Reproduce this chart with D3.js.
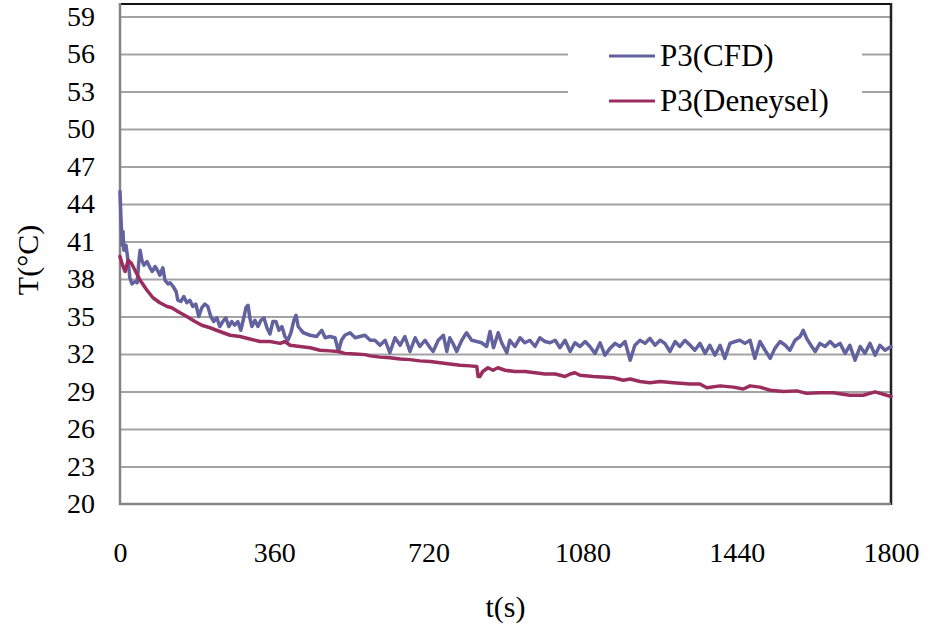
<!DOCTYPE html>
<html>
<head>
<meta charset="utf-8">
<script src="https://cdn.jsdelivr.net/npm/d3@7"></script>
<style>
  body { margin: 0; background: #fff; }
  text { font-family: "Liberation Serif", "Times New Roman", serif; fill: #000; }
</style>
</head>
<body>
<svg id="chart" width="929" height="634"></svg>
<script>
// P3 probe temperature: CFD prediction (time in s, temperature in °C)
const cfdTime = [0,2,5,7,9,14,19,23,28,35,40,44,47,51,56,63,70,75,82,89,93,100,105,112,117,124,131,135,142,149,156,163,170,177,184,191,198,205,212,219,226,233,240,247,254,261,268,275,282,289,294,299,303,308,315,322,329,336,343,350,357,364,371,378,385,392,399,406,411,416,423,
  428,444,459,471,479,490,502,510,517,525,537,549,560,572,584,595,607,619,630,642,654,665,677,689,700,712,724,731,743,755,763,770,778,786,798,809,821,833,844,856,864,872,883,891,903,910,922,934,945,957,969,980,992,1004,1016,1027,1039,1051,1062,
  1074,1086,1097,1109,1121,1132,1144,1156,1167,1179,1191,1202,1214,1226,1237,1249,1261,1272,1284,1296,1307,1319,1331,1342,1354,1366,1377,1389,1401,1412,1424,1436,1447,1459,1471,1482,1494,1506,1518,1529,1541,1553,1564,1576,1588,1595,1603,1615,1623,1634,1646,1658,1669,1681,1693,1704,1716,1728,1739,1751,1763,1774,1786,1800];
const cfdTemp = [45.0,43.1,40.7,41.8,40.3,40.7,39.4,38.1,37.6,37.8,37.7,39.4,40.3,39.5,39.1,39.4,38.9,38.6,39.0,38.6,38.3,38.9,37.9,37.6,37.7,37.4,37.0,36.3,36.2,36.6,36.1,36.3,35.8,36.0,35.0,35.7,36.0,35.8,35.0,34.6,34.9,34.2,34.6,34.9,34.2,34.6,34.3,34.6,33.9,34.9,35.7,35.9,34.9,34.2,34.7,34.2,34.7,34.9,34.1,33.6,34.6,34.6,33.9,34.2,33.4,33.1,33.7,34.7,35.1,34.2,33.9,
  33.7,33.5,33.4,33.9,33.3,33.4,33.3,32.2,33.1,33.5,33.7,33.3,33.4,33.5,33.1,33.1,32.7,33.1,32.1,33.3,32.7,33.4,32.2,33.3,32.6,33.1,32.5,32.2,33.1,33.5,32.2,33.3,32.8,32.2,33.1,33.7,33.1,33.0,32.9,32.6,33.8,32.5,33.7,32.9,32.1,33.1,32.6,33.3,32.9,33.1,32.6,33.3,33.0,32.9,33.1,32.5,33.1,32.2,32.9,
  32.6,33.0,32.6,32.05,32.9,31.9,32.45,32.85,32.6,33.0,31.5,32.7,33.1,32.85,33.25,32.7,33.1,32.85,32.2,33.0,32.6,33.1,32.7,32.3,32.85,32.05,32.7,31.9,32.7,31.65,32.85,33.0,33.1,32.85,33.1,31.65,33.0,32.3,31.65,32.45,33.0,32.7,32.3,33.1,33.4,33.9,33.25,32.6,32.2,32.85,32.6,33.0,32.6,32.85,32.05,32.7,31.5,32.6,32.05,32.85,31.9,32.7,32.3,32.6];

// P3 probe temperature: experimental measurement
const expTime = [0,5,12,19,26,35,47,63,77,93,110,121,135,156,175,191,210,233,257,280,303,327,350,374,385,397,420,444,467,490,509,525,549,572,584,607,630,654,677,700,724,747,770,794,817,833,836,840,847,859,871,882,899,922,946,969,992,1016,1039,1051,1062,1074,1105,1152,1175,1191,1214,1237,1261,1292,1331,1354,1370,1401,1432,1455,1471,1494,1518,1549,1580,1603,1634,1665,1704,1735,1763,1800];
const expTemp = [39.8,39.2,38.6,39.5,39.3,38.7,37.9,37.1,36.5,36.1,35.8,35.7,35.4,35.0,34.6,34.3,34.1,33.8,33.5,33.4,33.2,33.0,33.0,32.85,33.0,32.7,32.6,32.5,32.3,32.25,32.2,32.05,32.0,31.95,31.85,31.75,31.7,31.6,31.55,31.45,31.4,31.3,31.2,31.1,31.05,31.0,30.2,30.2,30.6,30.9,30.7,30.9,30.7,30.6,30.6,30.5,30.4,30.4,30.2,30.4,30.5,30.3,30.2,30.1,29.9,30.0,29.8,29.7,29.8,29.7,29.6,29.6,29.3,29.45,29.35,29.2,29.45,29.35,29.1,29.0,29.05,28.85,28.9,28.9,28.7,28.7,28.97,28.6];

const yTicks = [20,23,26,29,32,35,38,41,44,47,50,53,56,59];
const xTicks = [0,360,720,1080,1440,1800];
const seriesNames = ["P3(CFD)", "P3(Deneysel)"];
const seriesColors = ["#62629e", "#9b2d5e"];

const svg = d3.select("#chart");
const plot = { left: 120, right: 891, top: 4, bottom: 504 };

const x = d3.scaleLinear().domain([0, 1800]).range([plot.left, plot.right]);
const y = d3.scaleLinear().domain([20, 60]).range([plot.bottom, plot.top]);

// horizontal gridlines
const grid = svg.append("g")
  .attr("transform", `translate(${plot.left},0)`)
  .call(d3.axisLeft(y).tickValues(yTicks.filter(v => v > 20))
    .tickSize(-(plot.right - plot.left)).tickFormat(""));
grid.select(".domain").remove();
grid.selectAll(".tick line").attr("stroke", "#a3a3a3").attr("stroke-width", 2);

// legend background hides gridlines behind the key
svg.append("rect")
  .attr("x", 568).attr("y", 24).attr("width", 294).attr("height", 100)
  .attr("fill", "#fff");

// y tick labels
const yAxis = svg.append("g")
  .attr("transform", `translate(${plot.left},0)`)
  .call(d3.axisLeft(y).tickValues(yTicks).tickSize(0).tickPadding(25).tickFormat(d3.format("d")));
yAxis.select(".domain").remove();
yAxis.selectAll("text").attr("font-size", 28).attr("font-family", "Liberation Serif");

// x tick labels
const xAxis = svg.append("g")
  .attr("transform", `translate(0,${plot.bottom})`)
  .call(d3.axisBottom(x).tickValues(xTicks).tickSize(0).tickPadding(38).tickFormat(d3.format("d")));
xAxis.select(".domain").remove();
xAxis.selectAll("text").attr("font-size", 28).attr("font-family", "Liberation Serif");

// frame: grey left/bottom axes, black top/right border
svg.append("line").attr("x1", plot.left).attr("x2", plot.right).attr("y1", plot.top).attr("y2", plot.top)
  .attr("stroke", "#111").attr("stroke-width", 2);
svg.append("line").attr("x1", plot.right).attr("x2", plot.right).attr("y1", plot.top - 1).attr("y2", plot.bottom + 1)
  .attr("stroke", "#222").attr("stroke-width", 2.5);
svg.append("line").attr("x1", plot.left).attr("x2", plot.left).attr("y1", plot.top - 1).attr("y2", plot.bottom + 1)
  .attr("stroke", "#858585").attr("stroke-width", 2.5);
svg.append("line").attr("x1", plot.left - 1).attr("x2", plot.right).attr("y1", plot.bottom).attr("y2", plot.bottom)
  .attr("stroke", "#858585").attr("stroke-width", 2.5);

// series
const line = d3.line().x(d => x(d[0])).y(d => y(d[1]));
const cfdData = cfdTime.map((t, i) => [t, cfdTemp[i]]);
const expData = expTime.map((t, i) => [t, expTemp[i]]);

[cfdData, expData].forEach((data, i) => {
  svg.append("path")
    .datum(data)
    .attr("fill", "none")
    .attr("stroke", seriesColors[i])
    .attr("stroke-width", 3.5)
    .attr("stroke-linejoin", "round")
    .attr("stroke-linecap", "round")
    .attr("d", line);
});

// legend
const legend = svg.append("g");
seriesNames.forEach((name, i) => {
  const ly = 56 + i * 45;
  legend.append("line")
    .attr("x1", 609).attr("x2", 655).attr("y1", ly).attr("y2", ly)
    .attr("stroke", seriesColors[i]).attr("stroke-width", 3);
  legend.append("text")
    .attr("x", 660).attr("y", ly + 10)
    .attr("font-size", 31)
    .text(name);
});

// axis titles
svg.append("text")
  .attr("x", (plot.left + plot.right) / 2).attr("y", 617)
  .attr("text-anchor", "middle").attr("font-size", 30)
  .text("t(s)");
svg.append("text")
  .attr("transform", "translate(38,260) rotate(-90)")
  .attr("text-anchor", "middle").attr("font-size", 30)
  .text("T(°C)");
</script>
</body>
</html>
